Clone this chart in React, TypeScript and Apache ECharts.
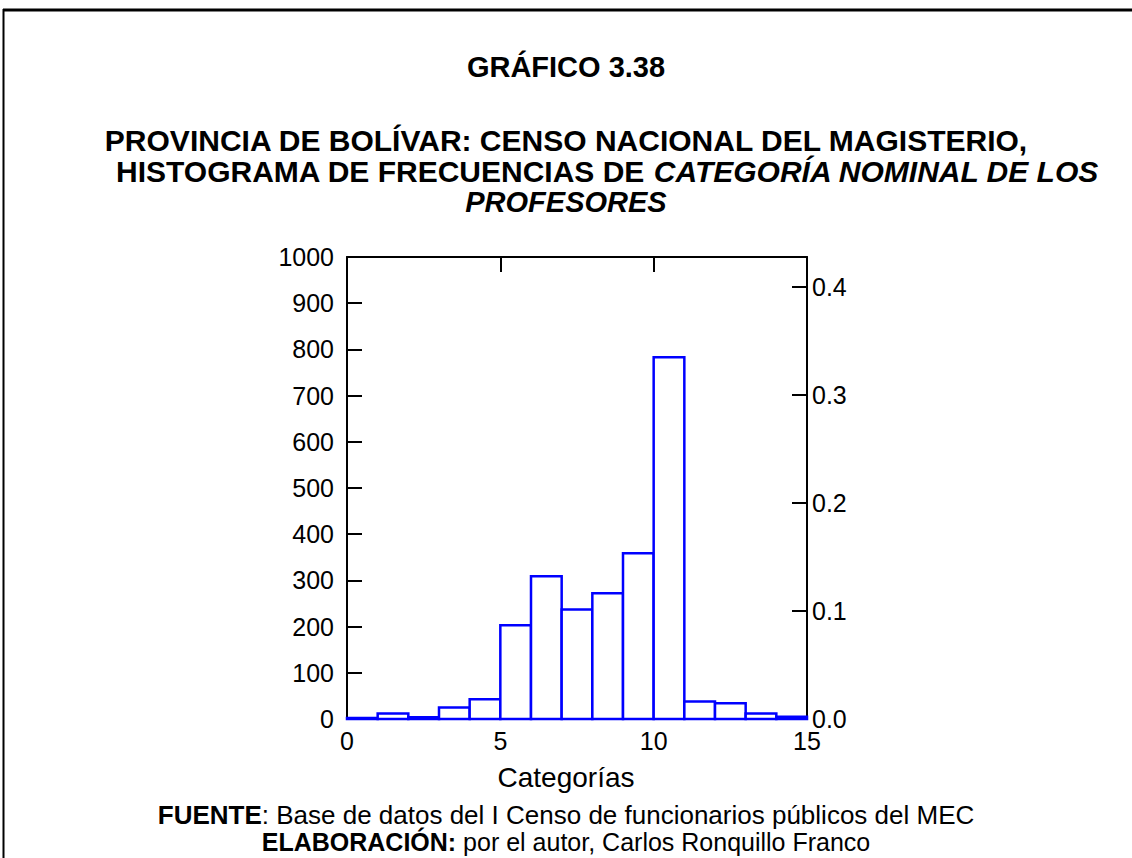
import React, { useEffect, useRef } from "react";
import * as echarts from "echarts";

const binStarts = [0, 1, 2, 3, 4, 5, 6, 7, 8, 9, 10, 11, 12, 13, 14];
const binWidth = 1;
const counts = [2, 12, 4, 25, 43, 203, 309, 237, 272, 359, 783, 38, 34, 12, 5];
const xTicks = [0, 5, 10, 15];
const countMax = 1000;
const countStep = 100;
const relStep = 0.1;

const titleTop = "GRÁFICO 3.38";
const titleLine1 = "PROVINCIA DE BOLÍVAR: CENSO NACIONAL DEL MAGISTERIO,";
const titleLine2a = "HISTOGRAMA DE FRECUENCIAS DE ";
const titleLine2b = "CATEGORÍA NOMINAL DE LOS";
const titleLine3 = "PROFESORES";
const xName = "Categorías";
const sourceLabel = "FUENTE";
const sourceText = ": Base de datos del I Censo de funcionarios públicos del MEC";
const authorLabel = "ELABORACIÓN:";
const authorText = " por el autor, Carlos Ronquillo Franco";

const FONT = '"Liberation Sans", Arial, sans-serif';
const TICK_FS = 25;

export default function App() {
  const ref = useRef<HTMLDivElement>(null);
  useEffect(() => {
    if (!ref.current) return;
    const chart = echarts.init(ref.current, null, { renderer: "svg" });
    const total = counts.reduce((a, b) => a + b, 0);
    const relMax = countMax / total;
    const data = binStarts.map((s, i) => [s, s + binWidth, counts[i]]);
    const W = 1132;
    const cx = W / 2;
    const axisLine = { show: true, onZero: false, lineStyle: { color: "#000", width: 2 } };
    const axisTick = { show: true, inside: true, length: 15, lineStyle: { color: "#000", width: 2 } };

    chart.setOption({
      animation: false,
      backgroundColor: "#ffffff",
      textStyle: { fontFamily: FONT, color: "#000" },
      grid: { left: 347, right: 325, top: 257, bottom: 139, containLabel: false },
      xAxis: [
        {
          type: "value",
          position: "bottom",
          min: xTicks[0],
          max: xTicks[xTicks.length - 1],
          interval: xTicks[1] - xTicks[0],
          axisLine,
          axisTick,
          axisLabel: {
            show: true,
            margin: 9,
            fontSize: TICK_FS,
            color: "#000",
            fontFamily: FONT,
            formatter: (v: number) => String(v),
          },
          splitLine: { show: false },
        },
        {
          type: "value",
          position: "top",
          min: xTicks[0],
          max: xTicks[xTicks.length - 1],
          interval: xTicks[1] - xTicks[0],
          axisLine,
          axisTick,
          axisLabel: { show: false },
          splitLine: { show: false },
        },
      ],
      yAxis: [
        {
          type: "value",
          position: "left",
          min: 0,
          max: countMax,
          interval: countStep,
          axisLine,
          axisTick,
          axisLabel: {
            show: true,
            margin: 13,
            fontSize: TICK_FS,
            color: "#000",
            fontFamily: FONT,
            formatter: (v: number) => String(v),
          },
          splitLine: { show: false },
        },
        {
          type: "value",
          position: "right",
          min: 0,
          max: relMax,
          interval: relStep,
          axisLine,
          axisTick,
          axisLabel: {
            show: true,
            margin: 5,
            fontSize: TICK_FS,
            color: "#000",
            fontFamily: FONT,
            showMaxLabel: false,
            formatter: (v: number) => v.toFixed(1),
          },
          splitLine: { show: false },
        },
      ],
      series: [
        {
          type: "custom",
          xAxisIndex: 0,
          yAxisIndex: 0,
          encode: { x: [0, 1], y: 2 },
          data,
          renderItem: (params: any, api: any) => {
            const p0 = api.coord([api.value(0), 0]);
            const p1 = api.coord([api.value(1), api.value(2)]);
            return {
              type: "rect",
              shape: { x: p0[0], y: p1[1], width: p1[0] - p0[0], height: p0[1] - p1[1] },
              style: { fill: "#ffffff", stroke: "#0000ff", lineWidth: 2.5 },
            };
          },
          z: 1,
        },
      ],
      graphic: [
        {
          type: "line",
          shape: { x1: 3, y1: 10, x2: W, y2: 10 },
          style: { stroke: "#000", lineWidth: 3 },
        },
        {
          type: "line",
          shape: { x1: 3.5, y1: 9, x2: 3.5, y2: 858 },
          style: { stroke: "#000", lineWidth: 2 },
        },
        {
          type: "text",
          x: cx,
          y: 67,
          style: {
            text: titleTop,
            align: "center",
            verticalAlign: "middle",
            font: `bold 29px ${FONT}`,
            fill: "#000",
          },
        },
        {
          type: "text",
          x: cx,
          y: 140,
          style: {
            text: titleLine1,
            align: "center",
            verticalAlign: "middle",
            font: `bold 30px ${FONT}`,
            fill: "#000",
          },
        },
        {
          type: "text",
          x: 116,
          y: 171,
          style: {
            text: `{b|${titleLine2a}}{i|${titleLine2b}}`,
            align: "left",
            verticalAlign: "middle",
            fill: "#000",
            rich: {
              b: { fontFamily: FONT, fontSize: 30, fontWeight: "bold", fill: "#000" },
              i: { fontFamily: FONT, fontSize: 30, fontWeight: "bold", fontStyle: "italic", fill: "#000" },
            },
          },
        },
        {
          type: "text",
          x: cx,
          y: 202,
          style: {
            text: titleLine3,
            align: "center",
            verticalAlign: "middle",
            font: `italic bold 29px ${FONT}`,
            fill: "#000",
          },
        },
        {
          type: "text",
          x: cx,
          y: 777,
          style: {
            text: xName,
            align: "center",
            verticalAlign: "middle",
            font: `28px ${FONT}`,
            fill: "#000",
          },
        },
        {
          type: "text",
          x: cx,
          y: 815,
          style: {
            text: `{b|${sourceLabel}}{r|${sourceText}}`,
            align: "center",
            verticalAlign: "middle",
            rich: {
              b: { fontFamily: FONT, fontSize: 26, fontWeight: "bold", fill: "#000" },
              r: { fontFamily: FONT, fontSize: 26, fill: "#000" },
            },
          },
        },
        {
          type: "text",
          x: cx,
          y: 842,
          style: {
            text: `{b|${authorLabel}}{r|${authorText}}`,
            align: "center",
            verticalAlign: "middle",
            rich: {
              b: { fontFamily: FONT, fontSize: 25, fontWeight: "bold", fill: "#000" },
              r: { fontFamily: FONT, fontSize: 25, fill: "#000" },
            },
          },
        },
      ],
    });
    return () => chart.dispose();
  }, []);

  return (
    <div
      ref={ref}
      style={{ position: "fixed", left: 0, top: 0, width: 1132, height: 858, background: "#fff" }}
    />
  );
}
